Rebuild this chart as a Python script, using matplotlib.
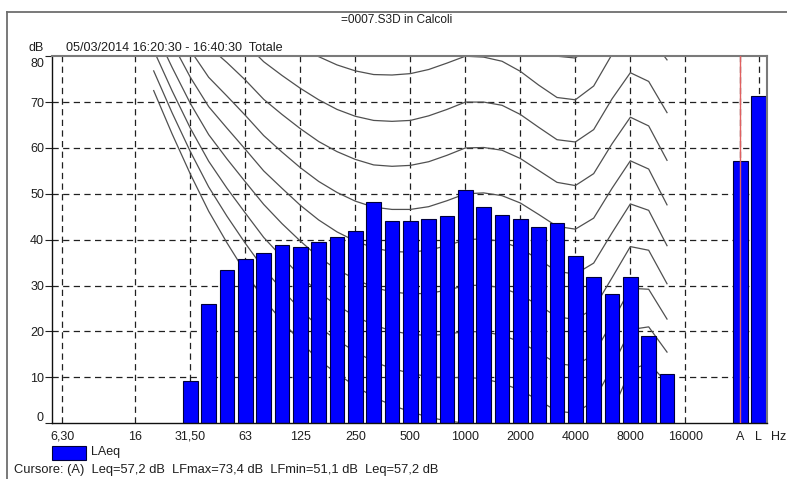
import numpy as np
import matplotlib
matplotlib.use("Agg")
import matplotlib.pyplot as plt
from matplotlib.transforms import ScaledTranslation
from matplotlib.patches import Rectangle
from matplotlib.lines import Line2D

plt.rcParams['font.family'] = ['Liberation Sans', 'DejaVu Sans']
TXT = '#1e1e1e'

# Third-octave band centres (Hz), 6.3 Hz .. 16 kHz
BAND_HZ = [6.3, 8, 10, 12.5, 16, 20, 25, 31.5, 40, 50, 63, 80, 100, 125, 160,
           200, 250, 315, 400, 500, 630, 800, 1000, 1250, 1600, 2000, 2500,
           3150, 4000, 5000, 6300, 8000, 10000, 12500, 16000]

# LAeq per band (dB); None = no value
LAEQ = [None, None, None, None, None, None, None,
        9.3, 26.0, 33.3, 35.7, 37.0, 38.8, 38.5, 39.4, 40.5, 42.0, 48.2,
        44.1, 44.1, 44.5, 45.1, 50.9, 47.1, 45.3, 44.6, 42.7, 43.6, 36.4,
        31.8, 28.2, 31.8, 19.0, 10.7, None]

# Overall levels
TOTAL_LABELS = ["A", "L"]
TOTAL_DB = [57.2, 71.4]

# Octave tick labels
TICK_HZ = [6.3, 16, 31.5, 63, 125, 250, 500, 1000, 2000, 4000, 8000, 16000]
TICK_TEXT = ["6,30", "16", "31,50", "63", "125", "250", "500", "1000",
             "2000", "4000", "8000", "16000"]

# Equal-loudness contours (dB SPL at each third-octave, 20 Hz .. 12.5 kHz)
CONTOUR_HZ = [20, 25, 31.5, 40, 50, 63, 80, 100, 125, 160, 200, 250, 315, 400,
              500, 630, 800, 1000, 1250, 1600, 2000, 2500, 3150, 4000, 5000,
              6300, 8000, 10000, 12500]
PHON_0 = [72.5, 63.1, 54.3, 46.2, 39.3, 32.9, 27.0, 22.3, 17.8, 13.8, 10.8, 8.1,
          5.7, 3.9, 2.5, 1.3, 0.5, 0.0, -0.7, -1.9, -3.5, -5.7, -8.1, -8.3,
          -5.4, 2.5, 11.6, 13.1, 8.8]
PHON_10 = [76.8, 67.7, 59.2, 51.5, 45.1, 39.2, 33.7, 29.1, 24.8, 21.0, 18.1,
           15.6, 13.4, 11.9, 10.9, 10.1, 9.9, 10.0, 9.7, 8.7, 7.2, 5.0, 2.6,
           2.2, 4.8, 12.2, 20.4, 21.0, 15.5]
PHON_20 = [81.3, 72.5, 64.3, 57.1, 51.2, 45.8, 40.5, 36.2, 32.1, 28.5, 25.7,
           23.3, 21.4, 20.1, 19.4, 19.1, 19.4, 20.0, 19.9, 19.2, 17.7, 15.4,
           13.0, 12.5, 15.0, 22.0, 29.4, 29.2, 22.7]
PHON_30 = [86.0, 77.6, 69.7, 62.9, 57.6, 52.6, 47.7, 43.5, 39.7, 36.2, 33.5,
           31.4, 29.6, 28.6, 28.2, 28.3, 29.0, 30.0, 30.1, 29.5, 28.0, 25.7,
           23.2, 22.6, 25.0, 31.7, 38.5, 37.7, 30.4]
PHON_40 = [91.0, 82.9, 75.4, 69.0, 64.3, 59.7, 55.0, 51.2, 47.5, 44.3, 41.7,
           39.7, 38.2, 37.4, 37.3, 37.7, 38.7, 40.0, 40.2, 39.6, 38.1, 35.7,
           33.1, 32.5, 34.9, 41.5, 47.8, 46.4, 38.7]
PHON_50 = [96.2, 88.5, 81.3, 75.4, 71.3, 67.1, 62.7, 59.1, 55.7, 52.7, 50.3,
           48.4, 47.1, 46.6, 46.6, 47.2, 48.5, 50.0, 50.2, 49.6, 48.0, 45.5,
           42.9, 42.3, 44.7, 51.2, 57.2, 55.4, 47.6]
PHON_60 = [101.7, 94.4, 87.6, 82.1, 78.6, 74.8, 70.6, 67.3, 64.2, 61.4, 59.2,
           57.5, 56.3, 56.0, 56.2, 57.0, 58.4, 60.0, 60.1, 59.5, 57.7, 55.1,
           52.5, 51.8, 54.4, 60.9, 66.7, 64.8, 57.3]
PHON_70 = [107.6, 100.7, 94.3, 89.2, 86.4, 82.8, 78.8, 75.8, 73.0, 70.5, 68.4,
           66.9, 66.0, 65.8, 66.0, 67.0, 68.4, 70.0, 70.0, 69.3, 67.3, 64.5,
           61.8, 61.3, 64.0, 70.7, 76.4, 74.5, 67.7]
PHON_80 = [113.7, 107.3, 101.3, 96.6, 94.6, 91.1, 87.4, 84.7, 82.2, 79.9, 78.1,
           76.8, 76.0, 75.9, 76.2, 77.1, 78.5, 80.0, 79.8, 78.9, 76.7, 73.7,
           71.0, 70.5, 73.5, 80.4, 86.3, 84.5, 79.2]
PHON_90 = [120.3, 114.4, 108.7, 104.4, 103.2, 99.8, 96.3, 94.0, 91.8, 89.8,
           88.1, 87.1, 86.4, 86.4, 86.6, 87.5, 88.7, 90.0, 89.5, 88.4, 85.9,
           82.7, 80.0, 79.6, 82.9, 90.1, 96.3, 94.9, 91.6]
CONTOURS = [PHON_0, PHON_10, PHON_20, PHON_30, PHON_40, PHON_50, PHON_60,
            PHON_70, PHON_80, PHON_90]

W, H = 787, 479
fig = plt.figure(figsize=(W / 100, H / 100), dpi=100)
ax_l, ax_r, ax_t, ax_b = 52.3, 767.3, 56.2, 423.2
ax = fig.add_axes([ax_l / W, 1 - ax_b / H, (ax_r - ax_l) / W, (ax_b - ax_t) / H])

pos = {f: i for i, f in enumerate(BAND_HZ)}
n = len(BAND_HZ)
total_pos = [n + 2, n + 3]

# grid
grid_x = [pos[f] for f in TICK_HZ] + total_pos
for gx in grid_x:
    ax.axvline(gx, color='#202020', lw=0.9, ls=(0, (5, 3.5)), zorder=0)
for gy in range(10, 80, 10):
    ax.axhline(gy, color='#202020', lw=0.9, ls=(0, (5, 3.5)), zorder=0)

# equal-loudness contours
cx = [pos[f] for f in CONTOUR_HZ]
for curve in CONTOURS:
    ax.plot(cx, curve, color='#505050', lw=0.9, zorder=1)

# band bars
bx = [i for i, v in enumerate(LAEQ) if v is not None]
bv = [v for v in LAEQ if v is not None]
ax.bar(bx, bv, width=0.8, color='#0000ff', edgecolor='#00003a', lw=0.8, zorder=2)
ax.bar(total_pos, TOTAL_DB, width=0.8, color='#0000ff', edgecolor='#00003a',
       lw=0.8, zorder=2)

# cursor on A
ax.axvline(total_pos[0], color='#e06060', lw=1.0, zorder=3)

ax.set_xlim(-0.53, 38.47)
ax.set_ylim(0, 80)

ax.set_xticks([pos[f] for f in TICK_HZ] + total_pos)
ax.set_xticklabels(TICK_TEXT + TOTAL_LABELS)
ax.tick_params(axis='x', length=0, pad=5.5, labelsize=9, labelcolor=TXT)
ax.set_yticks(range(0, 81, 10))
ax.tick_params(axis='y', length=5, width=0.8, pad=1, labelsize=9,
               labelcolor=TXT, color='#202020')
for lab in ax.get_yticklabels():
    if lab.get_text() == '80':
        lab.set_transform(lab.get_transform() + ScaledTranslation(0, -6 / 100, fig.dpi_scale_trans))
    elif lab.get_text() == '0':
        lab.set_transform(lab.get_transform() + ScaledTranslation(0, 6.5 / 100, fig.dpi_scale_trans))

for s in ('left', 'bottom'):
    ax.spines[s].set_color('#101010')
    ax.spines[s].set_linewidth(1.0)
for s in ('top', 'right'):
    ax.spines[s].set_color('#7a7a7a')
    ax.spines[s].set_linewidth(1.5)

def fx(px):
    return px / W

def fy(py):
    return 1 - py / H

fig.text(fx(397), fy(20), "=0007.S3D in Calcoli", ha='center', va='center',
         fontsize=8.6, color=TXT)
fig.text(fx(36), fy(48), "dB", ha='center', va='center', fontsize=9, color=TXT)
fig.text(fx(65.5), fy(48), "05/03/2014 16:20:30 - 16:40:30  Totale",
         ha='left', va='center', fontsize=9.1, color=TXT)
fig.text(fx(779), fy(437), "Hz", ha='center', va='center', fontsize=9, color=TXT)

# legend
fig.patches.append(Rectangle((fx(52.3), fy(460)), (86 - 52.3) / W, 14.3 / H,
                             transform=fig.transFigure, facecolor='#0000ff',
                             edgecolor='#00003a', lw=0.8))
fig.text(fx(91), fy(452.5), "LAeq", ha='left', va='center', fontsize=9, color=TXT)
fig.text(fx(13.5), fy(470.5),
         "Cursore: (A)  Leq=57,2 dB  LFmax=73,4 dB  LFmin=51,1 dB  Leq=57,2 dB",
         ha='left', va='center', fontsize=9.3, color=TXT)

# window frame
fig.lines.append(Line2D([fx(7), 1], [fy(11.7), fy(11.7)], transform=fig.transFigure,
                        color='#6e6e6e', lw=1.3))
fig.lines.append(Line2D([fx(7), fx(7)], [fy(11.7), 0], transform=fig.transFigure,
                        color='#6e6e6e', lw=1.3))

fig.savefig("out.png", dpi=100)
